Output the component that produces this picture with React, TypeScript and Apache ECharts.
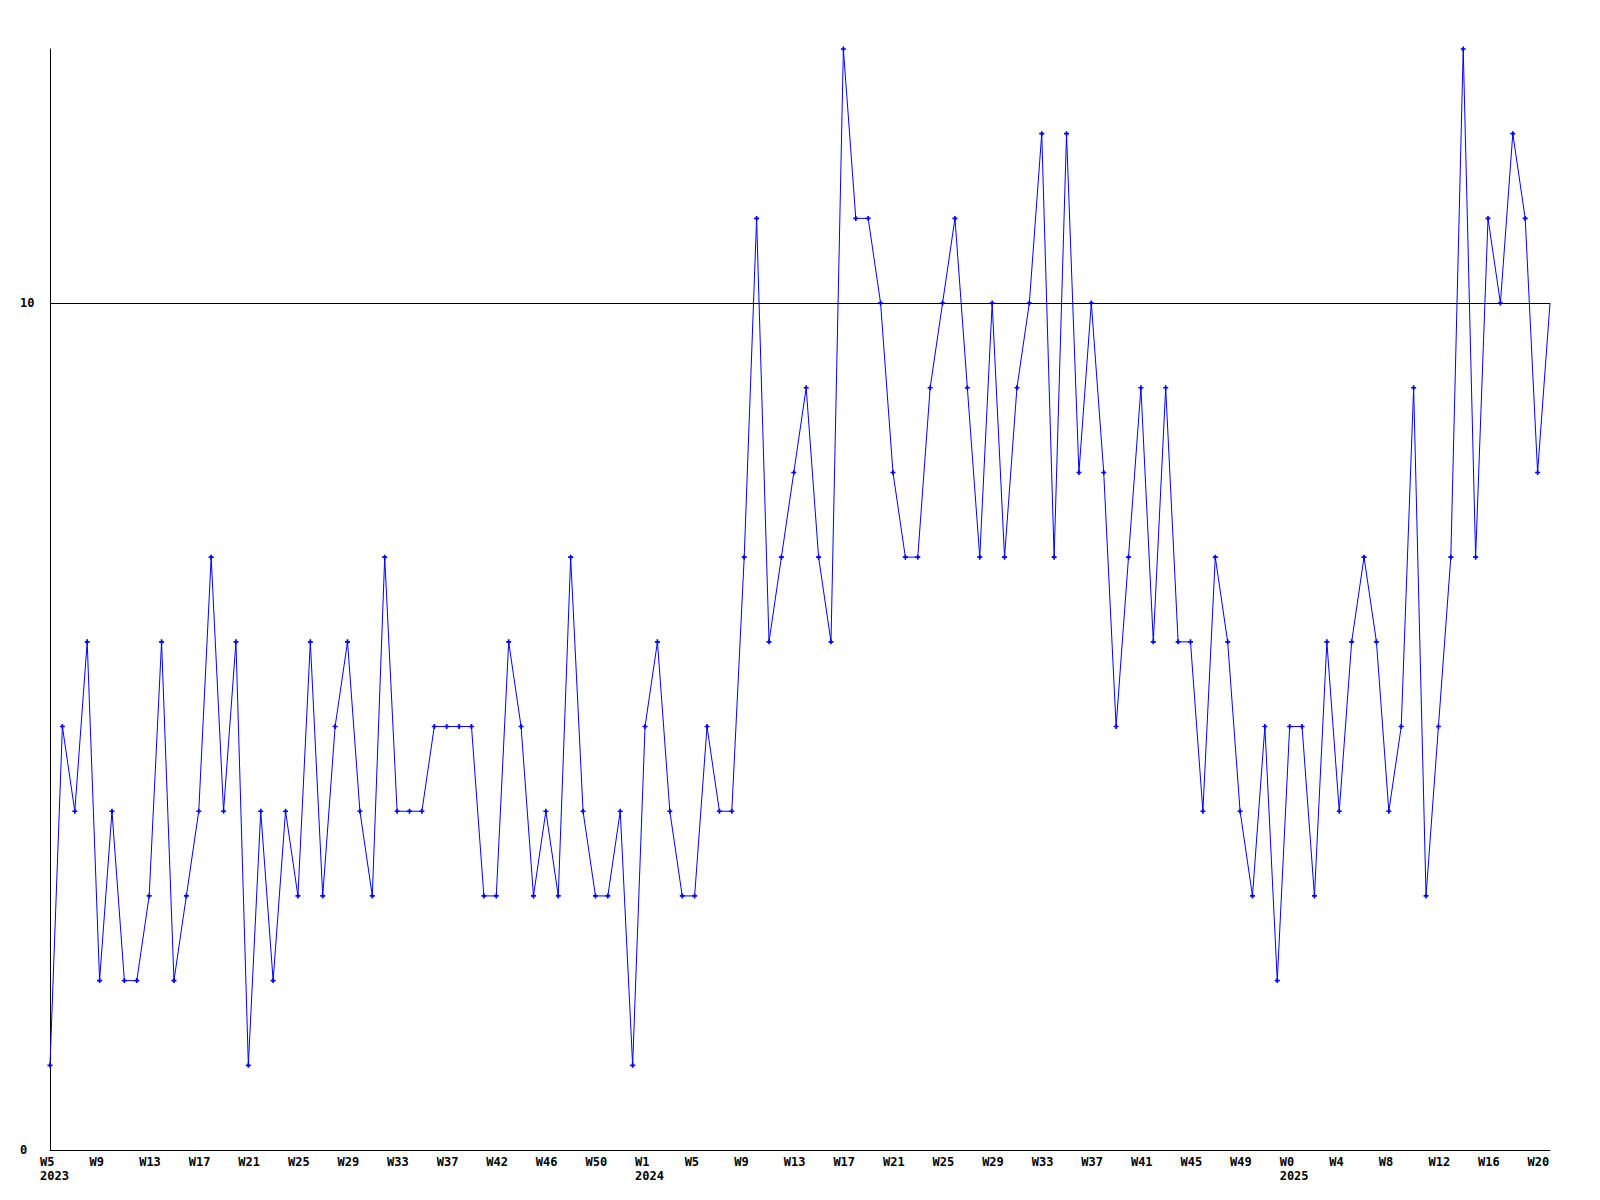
import React, { useEffect, useRef } from "react";
import * as echarts from "echarts";

const values: number[] = [
  1, 5, 4, 6, 2, 4, 2, 2, 3, 6, 2, 3, 4, 7, 4, 6, 1, 4, 2, 4,
  3, 6, 3, 5, 6, 4, 3, 7, 4, 4, 4, 5, 5, 5, 5, 3, 3, 6, 5, 3,
  4, 3, 7, 4, 3, 3, 4, 1, 5, 6, 4, 3, 3, 5, 4, 4, 7, 11, 6, 7,
  8, 9, 7, 6, 13, 11, 11, 10, 8, 7, 7, 9, 10, 11, 9, 7, 10, 7, 9, 10,
  12, 7, 12, 8, 10, 8, 5, 7, 9, 6, 9, 6, 6, 4, 7, 6, 4, 3, 5, 2,
  5, 5, 3, 6, 4, 6, 7, 6, 4, 5, 9, 3, 5, 7, 13, 7, 11, 10, 12, 11,
  8, 10,
];

const categories: string[] = values.map((_, i) => String(i));

const tickLabels: string[] = [
  "W5\n2023", "W9", "W13", "W17", "W21", "W25", "W29", "W33", "W37", "W42", "W46", "W50",
  "W1\n2024", "W5", "W9", "W13", "W17", "W21", "W25", "W29", "W33", "W37", "W41", "W45", "W49",
  "W0\n2025", "W4", "W8", "W12", "W16", "W20",
];

const yTickLabels: number[] = [0, 10];
const referenceLine = 10;

const FONT = "DejaVu Sans Mono";

export default function App() {
  const ref = useRef<HTMLDivElement>(null);
  useEffect(() => {
    document.body.style.margin = "0";
    const chart = echarts.init(ref.current!, undefined, { renderer: "svg" });
    const seriesData = values.map((v, i) =>
      i === values.length - 1 ? { value: v, symbol: "none" } : v
    );
    chart.setOption({
      animation: false,
      backgroundColor: "#ffffff",
      grid: { left: 50, right: 50, top: 49, bottom: 50, containLabel: false },
      xAxis: {
        type: "category",
        data: categories,
        boundaryGap: false,
        axisLine: { show: true, lineStyle: { color: "#000", width: 1 } },
        axisTick: { show: false },
        splitLine: { show: false },
        axisLabel: {
          interval: 3,
          align: "left",
          verticalAlign: "top",
          margin: 5,
          padding: [0, 0, 0, -10],
          color: "#000",
          fontFamily: FONT,
          fontWeight: "bold",
          fontSize: 12,
          lineHeight: 14,
          formatter: (_v: string, idx: number) =>
            idx % 4 === 0 && tickLabels[idx / 4] !== undefined ? tickLabels[idx / 4] : "",
        },
      },
      yAxis: {
        type: "value",
        min: 0,
        max: 13,
        interval: 10,
        axisLine: { show: true, lineStyle: { color: "#000", width: 1 } },
        axisTick: { show: false },
        splitLine: { show: false },
        axisLabel: {
          showMaxLabel: false,
          align: "left",
          margin: 30,
          color: "#000",
          fontFamily: FONT,
          fontWeight: "bold",
          fontSize: 12,
          formatter: (v: number) => (yTickLabels.includes(v) ? String(v) : ""),
        },
      },
      series: [
        {
          type: "line",
          data: seriesData,
          symbol: "path://M2,0h2v2h2v2h-2v2h-2v-2h-2v-2h2z",
          symbolSize: 5,
          showAllSymbol: true,
          itemStyle: { color: "#0000ff" },
          lineStyle: { color: "#0000ff", width: 1 },
          markLine: {
            silent: true,
            symbol: "none",
            label: { show: false },
            lineStyle: { color: "#000", width: 1, type: "solid" },
            data: [{ yAxis: referenceLine }],
          },
        },
      ],
    });
    return () => chart.dispose();
  }, []);
  return <div ref={ref} style={{ width: 1600, height: 1200 }} />;
}
